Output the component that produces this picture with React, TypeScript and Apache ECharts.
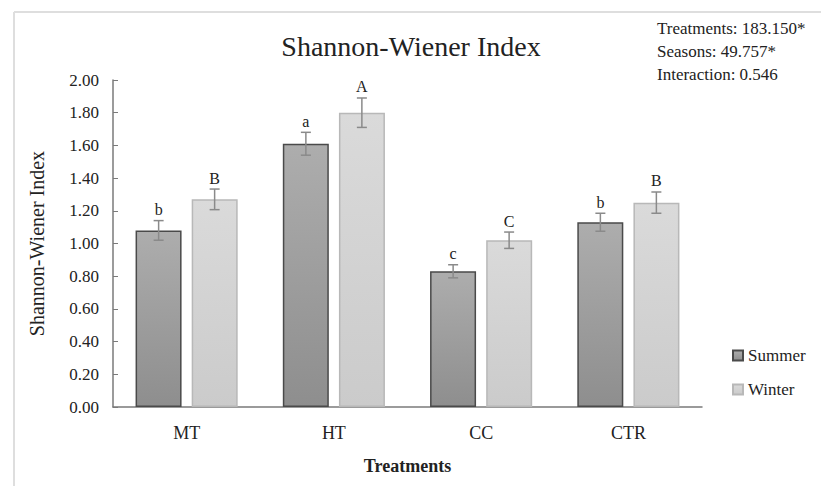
import React, { useEffect, useRef } from "react";
import * as echarts from "echarts";

const categories = ["MT", "HT", "CC", "CTR"];
const seasons = ["Summer", "Winter"];
const summerValues = [1.08, 1.61, 0.83, 1.13];
const winterValues = [1.27, 1.8, 1.02, 1.25];
const summerErrors = [0.06, 0.07, 0.04, 0.055];
const winterErrors = [0.063, 0.09, 0.05, 0.065];
const summerLetters = ["b", "a", "c", "b"];
const winterLetters = ["B", "A", "C", "B"];
const statsLines = ["Treatments: 183.150*", "Seasons: 49.757*", "Interaction: 0.546"];
const titleText = "Shannon-Wiener Index";
const yAxisName = "Shannon-Wiener Index";
const xAxisName = "Treatments";

const FONT = "Liberation Serif";
const BAR_W = 46;
const BAR_GAP = 10;

function errorSeries(name: string, values: number[], errors: number[], letters: string[], offset: number) {
  return {
    type: "custom",
    name: name + " error",
    z: 5,
    silent: true,
    data: values.map((v, i) => [i, v, errors[i]]),
    renderItem: (params: any, api: any) => {
      const idx = api.value(0);
      const v = api.value(1);
      const e = api.value(2);
      const hi = api.coord([idx, v + e]);
      const lo = api.coord([idx, v - e]);
      const cx = hi[0] + offset;
      const cap = 5;
      const st = { stroke: "#8a8a8a", lineWidth: 1.5 };
      return {
        type: "group",
        children: [
          { type: "line", shape: { x1: cx, y1: hi[1], x2: cx, y2: lo[1] }, style: st },
          { type: "line", shape: { x1: cx - cap, y1: hi[1], x2: cx + cap, y2: hi[1] }, style: st },
          { type: "line", shape: { x1: cx - cap, y1: lo[1], x2: cx + cap, y2: lo[1] }, style: st },
          {
            type: "text",
            x: cx,
            y: hi[1] - 3,
            style: {
              text: letters[params.dataIndex],
              fill: "#222",
              fontFamily: FONT,
              fontSize: 16,
              align: "center",
              verticalAlign: "bottom",
            },
          },
        ],
      };
    },
  };
}

export default function App() {
  const ref = useRef<HTMLDivElement>(null);
  useEffect(() => {
    if (!ref.current) return;
    const chart = echarts.init(ref.current, null, { renderer: "svg" });
    const off = (BAR_W + BAR_GAP) / 2;
    chart.setOption({
      animation: false,
      backgroundColor: "#fff",
      grid: { left: 113, right: 119, top: 80, bottom: 79, containLabel: false },
      legend: {
        orient: "vertical",
        left: 727,
        top: 342,
        itemWidth: 10,
        itemHeight: 10,
        itemGap: 17,
        icon: "rect",
        data: seasons,
        textStyle: { fontFamily: FONT, fontSize: 17, color: "#222" },
      },
      graphic: [
        { type: "line", shape: { x1: 14, y1: 12, x2: 14, y2: 486 }, style: { stroke: "#dedede", lineWidth: 2 } },
        { type: "line", shape: { x1: 14, y1: 12, x2: 821, y2: 12 }, style: { stroke: "#dedede", lineWidth: 2 } },
        {
          type: "text",
          x: 411,
          y: 46,
          style: { text: titleText, fontFamily: FONT, fontSize: 28, fill: "#222", align: "center", verticalAlign: "middle" },
        },
        ...statsLines.map((t, i) => ({
          type: "text",
          x: 657,
          y: 28 + i * 23,
          style: { text: t, fontFamily: FONT, fontSize: 17, fill: "#222", align: "left", verticalAlign: "middle" },
        })),
      ],
      xAxis: {
        type: "category",
        data: categories,
        name: xAxisName,
        nameLocation: "middle",
        nameGap: 50,
        nameTextStyle: { fontFamily: FONT, fontSize: 18, fontWeight: "bold", color: "#222" },
        axisLine: { lineStyle: { color: "#7a7a7a", width: 1.5 } },
        axisTick: { show: false },
        axisLabel: { fontFamily: FONT, fontSize: 18, color: "#222", margin: 17 },
      },
      yAxis: {
        type: "value",
        min: 0,
        max: 2,
        interval: 0.2,
        name: yAxisName,
        nameLocation: "middle",
        nameGap: 66,
        nameTextStyle: { fontFamily: FONT, fontSize: 20, color: "#222" },
        axisLine: { show: true, lineStyle: { color: "#7a7a7a", width: 1.5 } },
        axisTick: { show: true, inside: true, length: 5, lineStyle: { color: "#7a7a7a" } },
        splitLine: { show: false },
        axisLabel: {
          fontFamily: FONT,
          fontSize: 17,
          color: "#222",
          margin: 14,
          formatter: (v: number) => v.toFixed(2),
        },
      },
      series: [
        {
          type: "bar",
          name: seasons[0],
          data: summerValues,
          barWidth: BAR_W,
          barGap: "22%",
          itemStyle: {
            color: new echarts.graphic.LinearGradient(0, 0, 0, 1, [
              { offset: 0, color: "#adadad" },
              { offset: 1, color: "#8e8e8e" },
            ]),
            borderColor: "#4a4a4a",
            borderWidth: 1.5,
          },
        },
        {
          type: "bar",
          name: seasons[1],
          data: winterValues,
          barWidth: BAR_W,
          barGap: "22%",
          itemStyle: {
            color: new echarts.graphic.LinearGradient(0, 0, 0, 1, [
              { offset: 0, color: "#dadada" },
              { offset: 1, color: "#cbcbcb" },
            ]),
            borderColor: "#b8b8b8",
            borderWidth: 1.5,
          },
        },
        errorSeries(seasons[0], summerValues, summerErrors, summerLetters, -off),
        errorSeries(seasons[1], winterValues, winterErrors, winterLetters, off),
      ],
    });
    return () => chart.dispose();
  }, []);
  return <div ref={ref} style={{ width: 821, height: 486, position: "absolute", left: 0, top: 0 }} />;
}
